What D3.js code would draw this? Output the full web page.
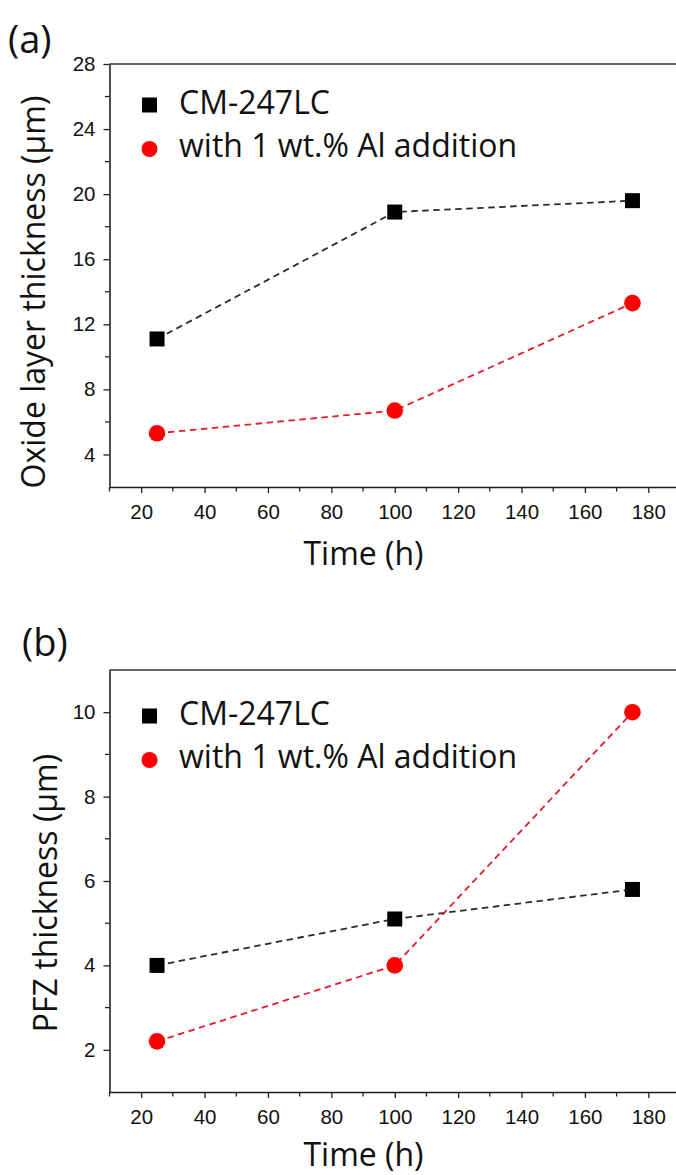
<!DOCTYPE html>
<html>
<head>
<meta charset="utf-8">
<script src="https://cdn.jsdelivr.net/npm/d3@7"></script>
<style>
  html, body { margin: 0; padding: 0; background: #fff; }
  svg { display: block; }
</style>
</head>
<body>
<svg id="chart" width="676" height="1175"></svg>
<script>
// ---- data ----
const times = [25, 100, 175];
const seriesNames = ["CM-247LC", "with 1 wt.% Al addition"];
const oxideBase = [11.1, 18.9, 19.6];
const oxideAl = [5.3, 6.7, 13.3];
const pfzBase = [4.0, 5.1, 5.8];
const pfzAl = [2.2, 4.0, 10.0];
const xTicks = [20, 40, 60, 80, 100, 120, 140, 160, 180];
const oxideTicks = [4, 8, 12, 16, 20, 24, 28];
const pfzTicks = [2, 4, 6, 8, 10];
const panelLabels = ["(a)", "(b)"];
const yTitles = ["Oxide layer thickness (\u03bcm)", "PFZ thickness (\u03bcm)"];
const xTitle = "Time (h)";

const svg = d3.select("#chart");
const titleFont = "'Open Sans', sans-serif";
const tickFont = "'Liberation Sans', Arial, sans-serif";
const lineColors = ["#2b2b2b", "#e8192c"];
const markColors = ["#000000", "#ff0000"];
const titleSize = 32;
const tickSize = 20.5;

function panel(cfg) {
  const g = svg.append("g");
  const x = d3.scaleLinear().domain([10, 190]).range([109.5, 680]);
  const y = d3.scaleLinear().domain(cfg.yDomain).range([cfg.bottom, cfg.top]);

  // frame: top border
  g.append("line").attr("x1", x(10)).attr("x2", 680).attr("y1", cfg.top).attr("y2", cfg.top)
    .attr("stroke", "#333").attr("stroke-width", 1.6);

  // x axis
  const xMinor = d3.range(10, 191, 10).filter(v => !xTicks.includes(v));
  const xa = g.append("g").attr("transform", `translate(0,${cfg.bottom})`);
  xa.call(d3.axisBottom(x).tickValues(xTicks).tickSize(6).tickPadding(11).tickSizeOuter(0));
  xa.append("g").selectAll("line").data(xMinor).join("line")
    .attr("x1", d => x(d)).attr("x2", d => x(d)).attr("y1", 0).attr("y2", 4.5)
    .attr("stroke", "#222").attr("stroke-width", 1.3);
  xa.select(".domain").attr("stroke", "#222").attr("stroke-width", 1.6);
  xa.selectAll(".tick line").attr("stroke", "#222").attr("stroke-width", 1.3);
  xa.selectAll(".tick text").attr("font-family", tickFont).attr("font-size", tickSize).attr("fill", "#111");

  // y axis
  const ya = g.append("g").attr("transform", `translate(${x(10)},0)`);
  ya.call(d3.axisLeft(y).tickValues(cfg.yTicks).tickSize(6).tickPadding(8).tickSizeOuter(0));
  ya.append("g").selectAll("line").data(cfg.yMinor).join("line")
    .attr("x1", 0).attr("x2", -4.5).attr("y1", d => y(d)).attr("y2", d => y(d))
    .attr("stroke", "#222").attr("stroke-width", 1.3);
  ya.select(".domain").attr("stroke", "#222").attr("stroke-width", 1.6);
  ya.selectAll(".tick line").attr("stroke", "#222").attr("stroke-width", 1.3);
  ya.selectAll(".tick text").attr("font-family", tickFont).attr("font-size", tickSize).attr("fill", "#111");

  // lines
  const line = d3.line().x((d, i) => x(times[i])).y(d => y(d));
  cfg.series.forEach((s, k) => {
    g.append("path").datum(s).attr("d", line).attr("fill", "none")
      .attr("stroke", lineColors[k]).attr("stroke-width", 1.8).attr("stroke-dasharray", "6.5,4.5");
  });
  // markers
  g.append("g").selectAll("rect").data(cfg.series[0]).join("rect")
    .attr("x", (d, i) => x(times[i]) - 7.5).attr("y", d => y(d) - 7.5)
    .attr("width", 15).attr("height", 15).attr("fill", markColors[0]);
  g.append("g").selectAll("circle").data(cfg.series[1]).join("circle")
    .attr("cx", (d, i) => x(times[i])).attr("cy", d => y(d)).attr("r", 8.3)
    .attr("fill", markColors[1]);

  // legend
  const lg = g.append("g");
  lg.append("rect").attr("x", 142).attr("y", cfg.legendY - 7.5).attr("width", 15).attr("height", 15).attr("fill", markColors[0]);
  lg.append("circle").attr("cx", 149.5).attr("cy", cfg.legendY + 44).attr("r", 8).attr("fill", markColors[1]);
  lg.append("text").attr("x", 179).attr("y", cfg.legendY + 9).text(seriesNames[0])
    .attr("font-family", titleFont).attr("font-size", titleSize).attr("fill", "#111");
  lg.append("text").attr("x", 179).attr("y", cfg.legendY + 52).text(seriesNames[1])
    .attr("font-family", titleFont).attr("font-size", titleSize).attr("fill", "#111");

  // titles
  g.append("text").attr("transform", `translate(${cfg.yTitleX},${cfg.yTitleY}) rotate(-90)`)
    .attr("text-anchor", "middle").text(cfg.yTitle)
    .attr("font-family", titleFont).attr("font-size", titleSize).attr("fill", "#111");
  g.append("text").attr("x", 363.5).attr("y", cfg.titleBaseline).attr("text-anchor", "middle").text(xTitle)
    .attr("font-family", titleFont).attr("font-size", titleSize).attr("fill", "#111");
  g.append("text").attr("x", cfg.labelX).attr("y", cfg.labelY).text(cfg.label)
    .attr("font-family", titleFont).attr("font-size", 38).attr("fill", "#111");
}

panel({
  top: 64, bottom: 487, yDomain: [2, 28], yTicks: oxideTicks,
  yMinor: [6, 10, 14, 18, 22, 26],
  series: [oxideBase, oxideAl], legendY: 105,
  yTitle: yTitles[0], yTitleX: 45, yTitleY: 292,
  label: panelLabels[0], labelX: 8, labelY: 53, titleBaseline: 565
});
panel({
  top: 670, bottom: 1092, yDomain: [1, 11], yTicks: pfzTicks,
  yMinor: [3, 5, 7, 9],
  series: [pfzBase, pfzAl], legendY: 716,
  yTitle: yTitles[1], yTitleX: 57, yTitleY: 893,
  label: panelLabels[1], labelX: 22, labelY: 656, titleBaseline: 1166
});
</script>
</body>
</html>
